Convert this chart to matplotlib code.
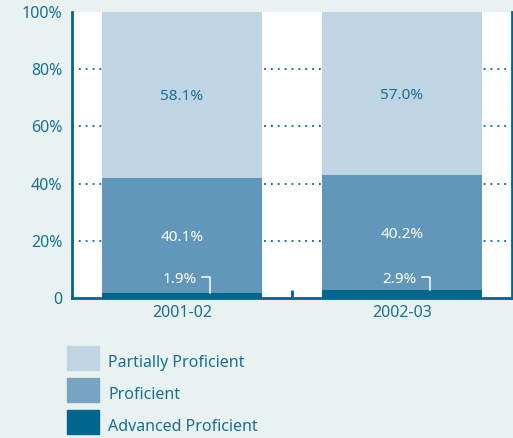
import matplotlib.pyplot as plt
from matplotlib.patches import Rectangle

years = ['2001-02', '2002-03']
advanced = [1.9, 2.9]
proficient = [40.1, 40.2]
partial = [58.1, 57.0]
levels = ['Partially Proficient', 'Proficient', 'Advanced Proficient']

bg = '#e8f3f1'
teal = '#00668f'
txt = '#196f94'
c_light = '#bfd5e3'
c_mid = '#6198b9'
c_dark = '#00668f'

plt.rcParams['font.family'] = ['Noto Sans', 'DejaVu Sans']
W, H = 513, 438
fig = plt.figure(figsize=(W / 100, H / 100), dpi=100, facecolor=bg)
ax = fig.add_axes([72 / W, 140 / H, 440 / W, 286 / H])
ax.set_facecolor('white')

x = list(range(len(years)))
bw = 0.723
ax.bar(x, advanced, bw, color=c_dark, zorder=3)
ax.bar(x, proficient, bw, bottom=advanced, color=c_mid, zorder=3)
bot2 = [a + p for a, p in zip(advanced, proficient)]
ax.bar(x, partial, bw, bottom=bot2, color=c_light, zorder=3)

# dotted guides, only visible in the gaps between bars
for yv in [20, 40, 60, 80]:
    ax.axhline(yv, color=teal, lw=1.3, dashes=(1, 2.8), zorder=1)

for i in x:
    ax.text(i, bot2[i] + partial[i] / 2, f'{partial[i]:.1f}%', ha='center', va='center_baseline',
            color=txt, fontsize=11, zorder=4)
    ax.text(i, advanced[i] + proficient[i] / 2, f'{proficient[i]:.1f}%', ha='center',
            va='center_baseline', color='white', fontsize=11, zorder=4)
    # small label with a hook pointing down to the thin band
    ax.text(i + 0.068, 7.0, f'{advanced[i]:.1f}%', ha='right', va='center_baseline',
            color='white', fontsize=11, zorder=4)
    ax.plot([i + 0.092, i + 0.128, i + 0.128], [7.3, 7.3, advanced[i]],
            color='white', lw=1.1, zorder=4)

ax.set_xlim(-0.5, 1.5)
ax.set_ylim(0, 100)
ax.set_yticks([0, 20, 40, 60, 80, 100])
ax.set_yticklabels(['0', '20%', '40%', '60%', '80%', '100%'])
ax.set_xticks(x)
ax.set_xticklabels(years)
ax.set_xticks([0.5], minor=True)
ax.tick_params(axis='both', which='major', length=0, colors=txt, labelsize=11.5)
ax.tick_params(axis='x', which='major', pad=5)
ax.tick_params(axis='y', which='major', pad=7)
ax.tick_params(axis='x', which='minor', direction='in', length=6, width=2, color=teal)

for s in ['left', 'bottom', 'right']:
    ax.spines[s].set_color(teal)
    ax.spines[s].set_linewidth(2)
    ax.spines[s].set_zorder(5)
ax.spines['top'].set_visible(False)

# legend drawn as boxes + labels under the chart
leg_cols = [c_light, '#78a3c1', c_dark]
for k, (lab, col) in enumerate(zip(levels, leg_cols)):
    top = 346 + 32 * k
    fig.add_artist(Rectangle((67 / W, 1 - (top + 24) / H), 32 / W, 24 / H,
                             transform=fig.transFigure, color=col))
    fig.text(108 / W, 1 - (top + 17) / H, lab, ha='left', va='center',
             color=txt, fontsize=11.5)

fig.savefig('out.png', dpi=100, facecolor=bg)
